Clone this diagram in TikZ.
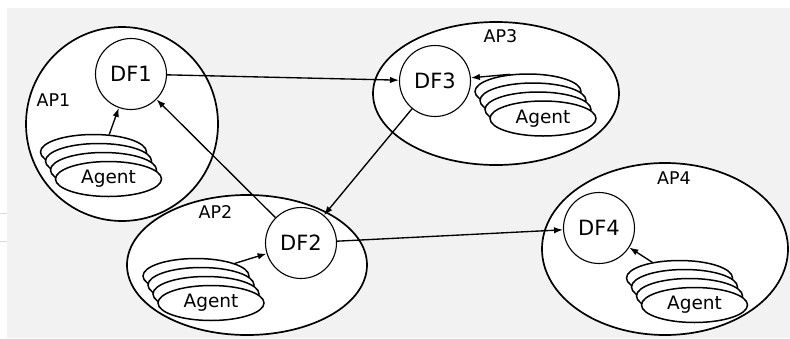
\documentclass[tikz,border=0pt]{standalone}
\usepackage{fontspec}
\setmainfont{DejaVu Sans}
\usetikzlibrary{shapes.geometric,arrows.meta,calc}
\definecolor{panel}{HTML}{F2F2F2}
\definecolor{rulegray}{HTML}{D8D8D8}
\tikzset{
  apzone/.style={ellipse, draw, line width=1.7pt, fill=white, inner sep=0pt},
  dfnode/.style={circle, draw, line width=1.1pt, fill=white, minimum size=71pt,
    inner sep=0pt, font=\fontsize{21}{21}\selectfont},
  agentdisc/.style={ellipse, draw, line width=1.5pt, fill=white,
    minimum width=106pt, minimum height=35pt, inner sep=0pt,
    font=\fontsize{18.5}{18.5}\selectfont},
  aplabel/.style={inner sep=0pt, font=\fontsize{17.5}{17.5}\selectfont},
  link/.style={line width=1.35pt, -{Latex[length=9pt,width=6.5pt]}},
}
% a stack of four agent discs; #1 = name prefix, #2 = front disc centre
\newcommand{\agentstack}[2]{%
  \node[agentdisc] (#1b) at ($(#2)+(-15,-27)$) {};
  \node[agentdisc] (#1c) at ($(#2)+(-10,-18)$) {};
  \node[agentdisc] (#1d) at ($(#2)+(-5,-9)$) {};
  \node[agentdisc] (#1a) at (#2) {Agent};
}

\begin{document}
\begin{tikzpicture}[x=1pt,y=-1pt]
\useasboundingbox (0,0) rectangle (790,338);
\fill[white] (0,0) rectangle (790,338);
\fill[panel] (7,8) rectangle (790,338);
\draw[rulegray, line width=0.8pt] (0,213) -- (7,213);
\draw[rulegray, line width=0.8pt] (0,241) -- (7,241);

% agent platforms
\node[apzone, minimum width=192pt, minimum height=194pt] (ap1) at (122,124) {};
\node[apzone, minimum width=246pt, minimum height=143pt] (ap3) at (496,93.5) {};
\node[apzone, minimum width=240pt, minimum height=140pt] (ap2) at (247,265) {};
\node[apzone, minimum width=246pt, minimum height=172pt] (ap4) at (665,249) {};

\node[aplabel] (l1) at (53.5,100.5) {AP1};
\node[aplabel] (l3) at (500.5,36.5) {AP3};
\node[aplabel] (l2) at (215.5,212.5) {AP2};
\node[aplabel] (l4) at (674,178.5) {AP4};

% directory facilitators
\node[dfnode] (df1) at (131,74) {DF1};
\node[dfnode] (df3) at (435,81) {DF3};
\node[dfnode] (df2) at (301,243) {DF2};
\node[dfnode] (df4) at (599,228) {DF4};

% agents
\coordinate (f1) at (108.5,179);
\coordinate (f3) at (543,118.5);
\coordinate (f2) at (211,303);
\coordinate (f4) at (694.5,305);
\agentstack{s1}{f1}
\agentstack{s3}{f3}
\agentstack{s2}{f2}
\agentstack{s4}{f4}

% registrations
\draw[link] (s1b.48) -- (df1);
\draw[link] (s3b.137) -- (df3);
\draw[link] (s2b.18) -- (df2);
\draw[link] (s4b.150) -- (df4);

% federation links
\draw[link] (df1) -- (df3);
\draw[link] (df2) -- (df1);
\draw[link] (df3) -- (df2);
\draw[link] (df2) -- (df4);
\end{tikzpicture}
\end{document}
